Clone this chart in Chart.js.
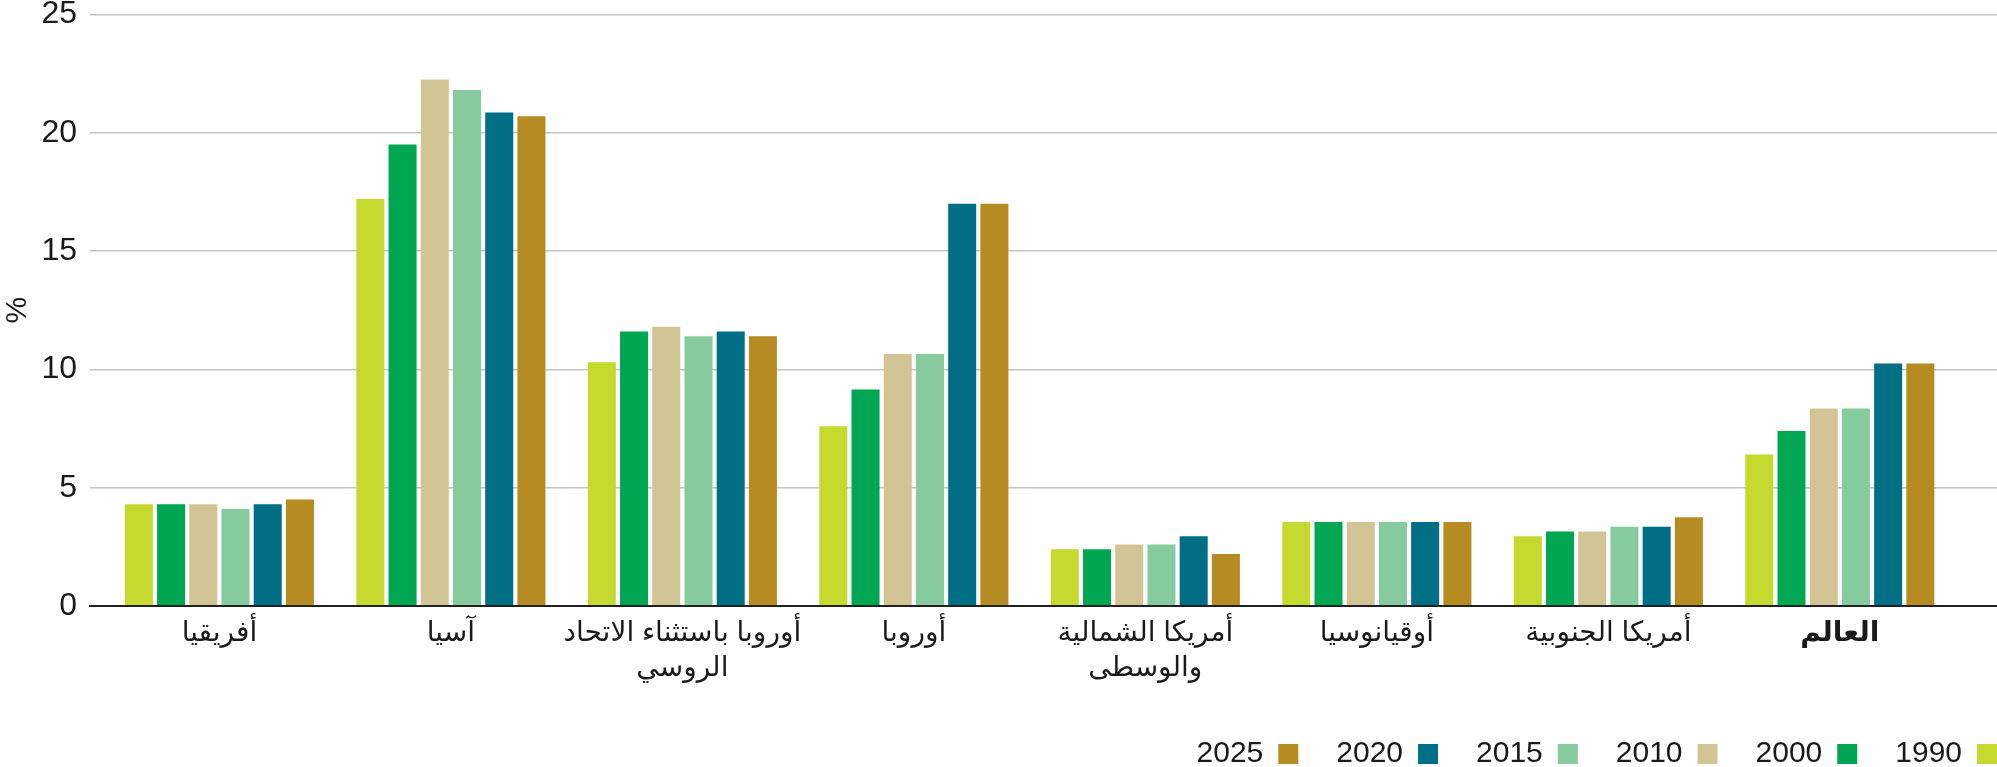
<!DOCTYPE html>
<html>
<head>
<meta charset="utf-8">
<script src="https://cdn.jsdelivr.net/npm/chart.js@4.4.1/dist/chart.umd.min.js"></script>
<style>
  html, body { margin: 0; padding: 0; background: #fff; }
  #wrap { width: 1997px; height: 767px; position: relative; }
</style>
</head>
<body>
<div id="wrap"><canvas id="chart"></canvas></div>
<script>
// regions (x axis), multi-line where the original wraps
const regions = [
  "أفريقيا",
  "آسيا",
  ["أوروبا باستثناء الاتحاد", "الروسي"],
  "أوروبا",
  ["أمريكا الشمالية", "والوسطى"],
  "أوقيانوسيا",
  "أمريكا الجنوبية",
  "العالم"
];
const years = ["1990", "2000", "2010", "2015", "2020", "2025"];

// % values per year, one entry per region
const v1990 = [4.3, 17.2, 10.3, 7.6, 2.4, 3.55, 2.95, 6.4];
const v2000 = [4.3, 19.5, 11.6, 9.15, 2.4, 3.55, 3.15, 7.4];
const v2010 = [4.3, 22.25, 11.8, 10.65, 2.6, 3.55, 3.15, 8.35];
const v2015 = [4.1, 21.8, 11.4, 10.65, 2.6, 3.55, 3.35, 8.35];
const v2020 = [4.3, 20.85, 11.6, 17.0, 2.95, 3.55, 3.35, 10.25];
const v2025 = [4.5, 20.7, 11.4, 17.0, 2.2, 3.55, 3.75, 10.25];

const yTicks = [0, 5, 10, 15, 20, 25];

const colors = ["#c6d92e", "#00a651", "#d3c495", "#86cb9e", "#006f86", "#b68c22"];
const series = [v1990, v2000, v2010, v2015, v2020, v2025];

const FONT = "'Liberation Sans', Arial, 'DejaVu Sans', sans-serif";
const TEXT = "#1a1a1a";
const LEGEND_GAP = 38;

const datasets = series.map((vals, k) => ({
  label: years[k],
  data: vals.map((v, i) => ({ x: i, y: v })),
  backgroundColor: colors[k],
  borderWidth: 0,
  categoryPercentage: 0.835,
  barPercentage: 0.87
}));

const ctx = document.getElementById("chart").getContext("2d");
new Chart(ctx, {
  type: "bar",
  data: { datasets },
  options: {
    responsive: true,
    maintainAspectRatio: false,
    animation: false,
    devicePixelRatio: 1,
    // legend is rtl + start aligned, so push its box past the right edge by one gap
    layout: { padding: { left: 0, right: -LEGEND_GAP, top: 0, bottom: -12 } },
    plugins: {
      tooltip: { enabled: false },
      legend: {
        position: "bottom",
        align: "start",
        rtl: true,
        labels: {
          boxWidth: 20,
          boxHeight: 20,
          padding: LEGEND_GAP,
          color: TEXT,
          font: { family: FONT, size: 30 }
        }
      }
    },
    scales: {
      x: {
        type: "linear",
        offset: false,
        min: -0.559,
        max: 7.679,
        afterFit: (scale) => { scale.height = 95; },
        afterBuildTicks: (scale) => {
          scale.ticks = regions.map((_, i) => ({ value: i }));
        },
        grid: { display: false, drawTicks: false, offset: false },
        border: { display: true, color: "#222", width: 2 },
        ticks: {
          autoSkip: false,
          maxRotation: 0,
          padding: 10,
          color: TEXT,
          font: (c) => ({
            family: FONT,
            size: 28,
            lineHeight: 1.25,
            weight: c.index === regions.length - 1 ? "bold" : "normal"
          }),
          callback: (value) => regions[value]
        }
      },
      y: {
        min: 0,
        max: 25,
        afterFit: (scale) => { scale.width = 90; },
        afterBuildTicks: (scale) => {
          scale.ticks = yTicks.map(v => ({ value: v }));
        },
        grid: {
          drawTicks: true,
          tickLength: 13,
          tickColor: "rgba(0,0,0,0)",
          color: (c) => c.tick && c.tick.value === 0 ? "#222" : "#c4c4c4",
          lineWidth: (c) => c.tick && c.tick.value === 0 ? 2 : 1.5
        },
        border: { display: false },
        title: {
          display: true,
          text: "%",
          color: TEXT,
          font: { family: FONT, size: 30 },
          padding: { top: 0, bottom: 0 }
        },
        ticks: {
          padding: 0,
          color: TEXT,
          font: { family: FONT, size: 32, lineHeight: 0.9 }
        }
      }
    }
  }
});
</script>
</body>
</html>
